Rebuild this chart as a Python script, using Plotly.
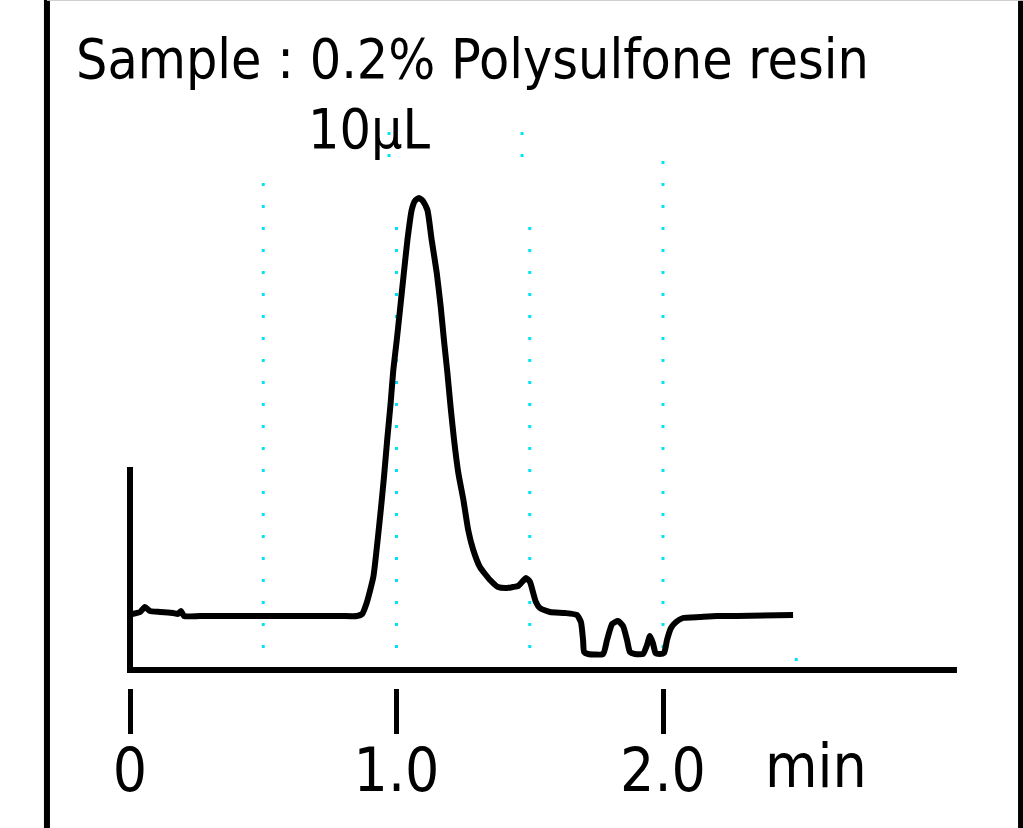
import plotly.graph_objects as go

# Retention time (min) and detector response (arbitrary units)
time_min = [
    0.008, 0.038, 0.056, 0.075, 0.113, 0.161, 0.180, 0.191, 0.203, 0.263,
    0.450, 0.638, 0.788, 0.852, 0.871, 0.888, 0.913, 0.928, 0.941, 0.953,
    0.965, 0.978, 0.988, 1.001, 1.013, 1.026, 1.041, 1.057, 1.069, 1.084,
    1.099, 1.116, 1.132, 1.151, 1.166, 1.178, 1.191, 1.203, 1.216, 1.232,
    1.251, 1.269, 1.288, 1.313, 1.351, 1.381, 1.415, 1.437, 1.456, 1.471,
    1.486, 1.501, 1.512, 1.523, 1.538, 1.576, 1.632, 1.677, 1.692, 1.700,
    1.704, 1.719, 1.775, 1.790, 1.809, 1.831, 1.850, 1.865, 1.876, 1.895,
    1.925, 1.940, 1.951, 1.962, 1.972, 1.987, 2.004, 2.015, 2.030, 2.049,
    2.075, 2.139, 2.203, 2.278, 2.488,
]
response = [
    56, 58, 63, 59, 58, 57, 56, 59, 54, 54,
    54, 54, 54, 54, 56, 67, 93, 127, 160, 193,
    230, 267, 300, 330, 360, 393, 430, 460, 469, 472,
    469, 460, 430, 397, 363, 330, 297, 263, 230, 197,
    170, 140, 120, 103, 90, 83, 82, 83, 84, 88,
    92, 88, 78, 68, 62, 58, 57, 55, 48, 30,
    18, 16, 16, 30, 46, 49, 44, 30, 18, 16,
    16, 25, 34, 27, 17, 16, 17, 30, 42, 48,
    52, 53, 54, 54, 55,
]

tick_vals = [0, 1, 2]
tick_text = ["0", "1.0", "2.0"]
grid_times = [0.5, 1.0, 1.5, 2.0]
grid_tops = [505, 460, 460, 527]   # upper end of each dotted guide (response units)

FONT = "DejaVu Sans Condensed, DejaVu Sans, sans-serif"
INK = "#000000"
GRID = "#00e4f2"

fig = go.Figure()
fig.add_trace(go.Scatter(
    x=time_min, y=response, mode="lines",
    line=dict(color=INK, width=6, shape="spline", smoothing=0.5),
    hoverinfo="skip", showlegend=False,
))

shapes = []
# dotted guide lines every 0.5 min
for t, top in zip(grid_times, grid_tops):
    shapes.append(dict(type="line", xref="x", yref="y", x0=t, x1=t, y0=22, y1=top,
                       line=dict(color=GRID, width=3, dash="3px,19px"), layer="below"))
shapes.append(dict(type="line", xref="x", yref="y", x0=2.5, x1=2.5, y0=12, y1=9,
                   line=dict(color=GRID, width=3), layer="below"))
# short offset guide fragments near the injection label
for t in [0.972, 1.471]:
    shapes.append(dict(type="line", xref="x", yref="y", x0=t, x1=t, y0=513, y1=557,
                       line=dict(color=GRID, width=3, dash="3px,19px"), layer="below"))
# axes of the chromatogram
shapes.append(dict(type="line", xref="x", yref="y", x0=0, x1=0, y0=-3, y1=203,
                   line=dict(color=INK, width=6)))
shapes.append(dict(type="line", xref="x", yref="y", x0=-0.011, x1=3.103, y0=0, y1=0,
                   line=dict(color=INK, width=6)))
# frame
shapes.append(dict(type="line", xref="paper", yref="paper", x0=0.0459, x1=0.0459, y0=0, y1=1,
                   line=dict(color=INK, width=6)))
shapes.append(dict(type="line", xref="paper", yref="paper", x0=0.9976, x1=0.9976, y0=0, y1=1,
                   line=dict(color=INK, width=5)))
shapes.append(dict(type="line", xref="paper", yref="paper", x0=0.0459, x1=1, y0=0.9995, y1=0.9995,
                   line=dict(color="#cccccc", width=1)))

annotations = [
    dict(text="Sample : 0.2% Polysulfone resin", xref="paper", yref="paper",
         x=74 / 1023, y=1 - 59 / 828, xanchor="left", yanchor="middle", showarrow=False,
         font=dict(family=FONT, size=55, color=INK)),
    dict(text="10µL", xref="paper", yref="paper",
         x=306 / 1023, y=1 - 129 / 828, xanchor="left", yanchor="middle", showarrow=False,
         font=dict(family=FONT, size=55, color=INK)),
    dict(text="min", xref="paper", yref="paper",
         x=763 / 1023, y=1 - 766 / 828, xanchor="left", yanchor="middle", showarrow=False,
         font=dict(family=FONT, size=60, color=INK)),
]

fig.update_layout(
    width=1023, height=828,
    margin=dict(l=0, r=0, t=0, b=0),
    paper_bgcolor="white", plot_bgcolor="white",
    shapes=shapes, annotations=annotations,
    xaxis=dict(range=[-0.4878, 3.3508], domain=[0, 1],
               showgrid=False, zeroline=False, showline=False,
               tickmode="array", tickvals=tick_vals, ticktext=tick_text,
               ticks="outside", ticklen=45, tickwidth=5, tickcolor=INK,
               ticklabelstandoff=-15,
               tickfont=dict(family=FONT, size=60, color=INK)),
    yaxis=dict(range=[-18, 670], domain=[140 / 828, 1],
               showgrid=False, zeroline=False, showline=False,
               showticklabels=False, ticks=""),
)

fig.write_html("out.html")
